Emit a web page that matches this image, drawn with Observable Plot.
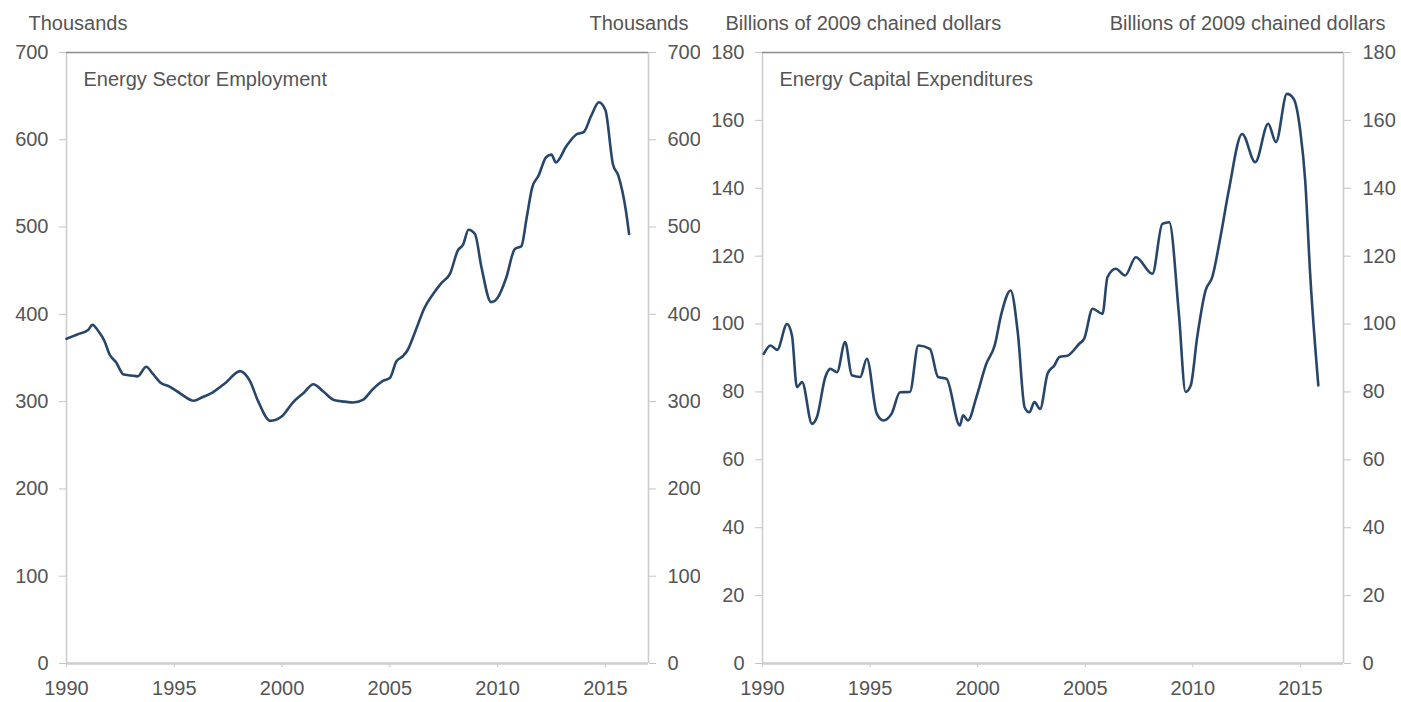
<!DOCTYPE html>
<html>
<head>
<meta charset="utf-8">
<script src="https://cdn.jsdelivr.net/npm/d3@7"></script>
<script src="https://cdn.jsdelivr.net/npm/@observablehq/plot@0.6"></script>
<style>
  html, body { margin: 0; padding: 0; background: #fff; }
  #wrap { display: flex; flex-direction: row; width: 1401px; height: 702px; }
</style>
</head>
<body>
<div id="wrap"><div id="left"></div><div id="right"></div></div>
<script>
// ---- Data ----
const yearTicks = [1990, 1995, 2000, 2005, 2010, 2015];
const empTicks = [0, 100, 200, 300, 400, 500, 600, 700];
const capexTicks = [0, 20, 40, 60, 80, 100, 120, 140, 160, 180];

const empTitle = "Energy Sector Employment";
const empUnit = "Thousands";
const capexTitle = "Energy Capital Expenditures";
const capexUnit = "Billions of 2009 chained dollars";

const empYears = [1990.0, 1990.5, 1991.0, 1991.2, 1991.5, 1991.75, 1992.0, 1992.3, 1992.65, 1993.0,
  1993.3, 1993.7, 1994.0, 1994.35, 1994.8, 1995.3, 1995.9, 1996.3, 1996.75, 1997.4,
  1998.05, 1998.5, 1998.9, 1999.45, 1999.98, 2000.5, 2001.0, 2001.45, 2001.9, 2002.4,
  2002.9, 2003.3, 2003.75, 2004.2, 2004.7, 2005.0, 2005.3, 2005.6, 2005.8, 2006.25,
  2006.6, 2007.0, 2007.4, 2007.8, 2008.15, 2008.4, 2008.65, 2008.95, 2009.25, 2009.7,
  2010.0, 2010.4, 2010.8, 2011.1, 2011.35, 2011.6, 2011.9, 2012.25, 2012.5, 2012.7,
  2013.2, 2013.65, 2014.0, 2014.35, 2014.7, 2015.0, 2015.35, 2015.6, 2015.95, 2016.1];
const empValues = [372, 377, 382, 388, 380, 370, 354, 345, 331, 330,
  329, 340, 332, 322, 317, 309, 301, 305, 310, 322,
  335, 324, 300, 278, 283, 299, 310, 320, 312, 302,
  300, 299, 302, 314, 324, 327, 346, 352, 358, 385,
  407, 423, 436, 447, 473, 480, 497, 492, 454, 414,
  419, 442, 475, 478, 511, 545, 559, 580, 583, 574,
  593, 606, 609, 628, 643, 634, 572, 559, 519, 492];

const capexYears = [1990.06, 1990.37, 1990.68, 1991.14, 1991.37, 1991.6, 1991.84, 1992.3, 1992.53, 1992.92,
  1993.15, 1993.46, 1993.84, 1994.15, 1994.54, 1994.85, 1995.31, 1995.62, 1996.0, 1996.39,
  1996.85, 1997.24, 1997.78, 1998.16, 1998.55, 1999.17, 1999.32, 1999.55, 1999.94, 2000.4,
  2000.79, 2001.1, 2001.53, 2001.87, 2002.18, 2002.4, 2002.64, 2002.9, 2003.25, 2003.56,
  2003.8, 2004.18, 2004.72, 2004.95, 2005.34, 2005.8, 2006.03, 2006.42, 2006.85, 2007.35,
  2008.12, 2008.58, 2008.9, 2009.35, 2009.66, 2009.9, 2010.2, 2010.59, 2010.9, 2011.28,
  2011.67, 2012.29, 2012.9, 2013.5, 2013.86, 2014.37, 2014.68, 2014.99, 2015.22, 2015.45,
  2015.83];
const capexValues = [91.2, 93.7, 92.4, 100, 96.6, 81.4, 82.9, 70.6, 72.6, 84.4,
  86.8, 85.8, 94.7, 84.9, 84.4, 89.8, 73.6, 71.6, 73.6, 79.9,
  80, 93.7, 92.7, 84.4, 83.9, 70.1, 73.1, 71.6, 78.5, 88.3,
  93.7, 103, 109.9, 97.1, 75.5, 74, 77, 75, 85.4, 87.8,
  90.3, 90.7, 94.2, 95.7, 104.5, 103, 113.8, 116.3, 114.3, 119.7,
  114.8, 129.5, 130, 103, 80, 81.9, 96.1, 109.9, 113.8, 125.6,
  139.4, 156, 147.7, 159, 153.6, 167.8, 166.4, 157, 142.3, 114.8,
  81.9];

// ---- Chart builder ----
const FONT = "'Liberation Sans', Arial, sans-serif";
const TEXT = "#555";
const LINE = "#27466a";

function panel({width, marginLeft, marginRight, years, values, yTicks, yMax, title, unit, unitLeftDx, unitRightDx}) {
  const data = years.map((x, i) => ({x, y: values[i]}));
  const xDomain = [1990, 2017];
  return Plot.plot({
    width,
    height: 702,
    marginTop: 52,
    marginBottom: 39,
    marginLeft,
    marginRight,
    style: {fontFamily: FONT, fontSize: "20px", color: TEXT, background: "#fff", overflow: "visible"},
    x: {domain: xDomain, label: null},
    y: {domain: [0, yMax], label: null},
    marks: [
      Plot.ruleX(xDomain, {stroke: "#cdcdcd", strokeWidth: 1.6}),
      Plot.ruleY([yMax], {stroke: "#8c8c8c", strokeWidth: 1.6}),
      Plot.axisY({anchor: "left", ticks: yTicks, tickSize: 7, tickPadding: 11, stroke: "#c4c4c4", fill: TEXT, label: null, tickFormat: d => String(d)}),
      Plot.axisY({anchor: "right", ticks: yTicks, tickSize: 7, tickPadding: 12, stroke: "#c4c4c4", fill: TEXT, label: null, tickFormat: d => String(d)}),
      Plot.axisX({anchor: "bottom", ticks: yearTicks, tickSize: 4, tickPadding: 13, stroke: "#c4c4c4", fill: TEXT, label: null, tickFormat: d => String(d)}),
      Plot.ruleY([0], {stroke: "#cdcdcd", strokeWidth: 2.5}),
      Plot.line(data, {x: "x", y: "y", stroke: LINE, strokeWidth: 2.6, curve: "monotone-x", strokeLinejoin: "round"}),
      Plot.text([title], {frameAnchor: "top-left", dx: 17, dy: 19, textAnchor: "start", fill: TEXT, fontSize: 20}),
      Plot.text([unit], {frameAnchor: "top-left", dx: unitLeftDx, dy: -37, textAnchor: "start", fill: TEXT, fontSize: 20}),
      Plot.text([unit], {frameAnchor: "top-right", dx: unitRightDx, dy: -37, textAnchor: "end", fill: TEXT, fontSize: 20})
    ]
  });
}

document.getElementById("left").append(panel({
  width: 700, marginLeft: 66, marginRight: 52,
  years: empYears, values: empValues, yTicks: empTicks, yMax: 700,
  title: empTitle, unit: empUnit, unitLeftDx: -38, unitRightDx: 40
}));

document.getElementById("right").append(panel({
  width: 701, marginLeft: 62, marginRight: 58,
  years: capexYears, values: capexValues, yTicks: capexTicks, yMax: 180,
  title: capexTitle, unit: capexUnit, unitLeftDx: -37, unitRightDx: 42
}));
</script>
</body>
</html>
